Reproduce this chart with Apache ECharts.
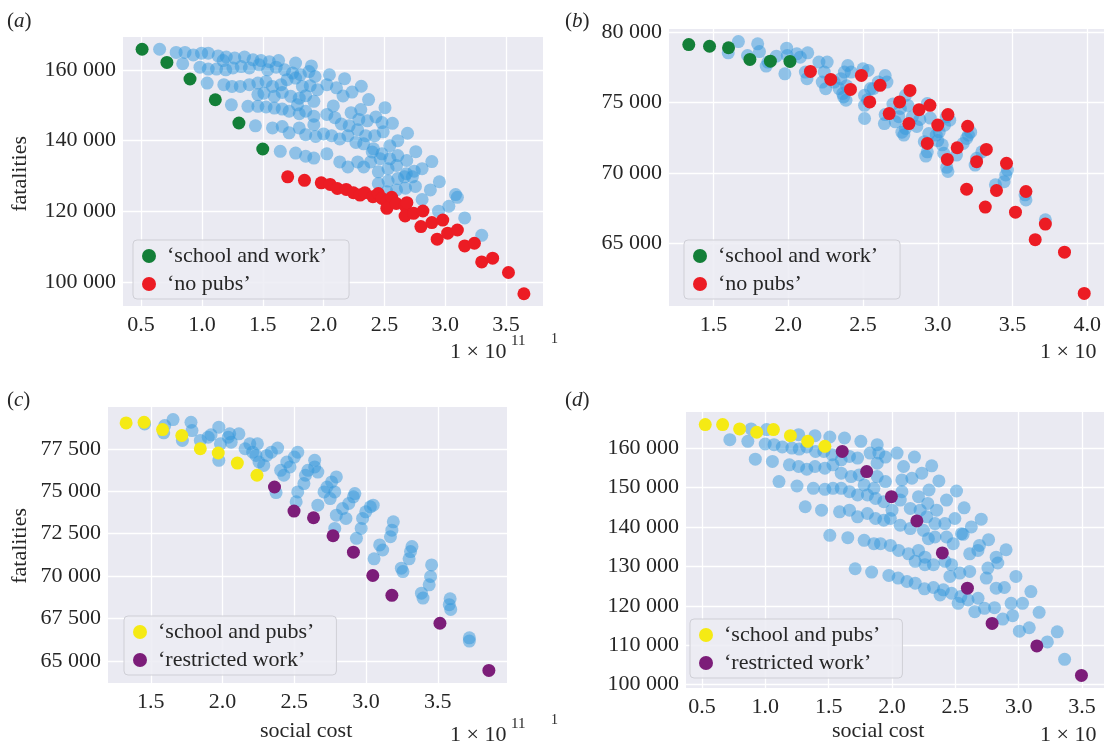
<!DOCTYPE html>
<html><head><meta charset="utf-8">
<script src="https://cdn.jsdelivr.net/npm/echarts@6/dist/echarts.min.js"></script>
<style>html,body{margin:0;padding:0;background:#fff}#c{width:1104px;height:744px}</style>
</head><body><div id="c"></div>
<script>
// ---------- Panel (a): social cost (x 1e11) vs fatalities ----------
const aBlue = [
[0.652,165800],[0.788,164900],[0.861,164900],[0.929,164200],[0.997,164700],[1.052,164700],[1.133,163900],[1.20,163600],[1.27,163300],[1.35,163600],[1.42,162800],[1.486,162600],[1.554,162300],[1.63,162600],[1.77,161900],[1.90,161100],
[0.842,161700],[0.984,160750],[1.052,160200],[1.12,160200],[1.196,160000],[1.255,160500],[1.174,162600],[1.323,160900],[1.39,160500],[1.47,161400],[1.54,160000],[1.61,160750],[1.68,160000],[1.745,159060],[1.81,158600],[1.88,159500],[1.93,158100],
[1.043,156250],[1.18,155800],[1.247,155300],[1.315,155300],[1.39,155800],[1.46,156250],[1.527,156700],[1.58,155300],[1.65,155800],[1.70,157200],[1.77,157650],[1.826,155300],[1.89,155500],[1.95,154400],
[1.46,153000],[1.51,153400],[1.595,152500],[1.66,153600],[1.73,152500],[1.80,152000],[1.853,152700],[1.92,151100],
[1.242,150100],[1.378,149700],[1.46,149700],[1.527,149500],[1.595,149200],[1.66,148900],[1.717,148300],[1.80,147600],[1.853,148300],[1.92,146900],[1.785,150100],
[1.44,144200],[1.58,143600],[1.66,144000],[1.717,142200],[1.80,143600],[1.853,141700],[1.92,144500],[1.935,141200],
[1.644,137000],[1.77,136500],[1.853,135600],[1.92,135100],
[2.048,158600],[2.173,157500],[2.31,155350],[2.37,151600],[2.505,149300],[2.566,144900],[2.69,142100],[2.758,136900],[2.89,134100],[2.952,128400],[3.085,124800],
[2.106,154900],[2.234,153700],[2.306,148800],[2.43,146700],[2.49,142500],[2.61,140000],[2.684,134400],[2.745,131400],[2.81,132100],[2.878,126100],
[2.027,155800],[2.08,149800],[2.16,152600],[2.226,147900],[2.29,146000],[2.36,145600],[2.42,141400],[2.48,145100],[2.545,138600],[2.61,135800],[2.68,130700],
[2.027,147400],[2.093,146500],[2.146,144700],[2.21,144200],[2.28,143100],[2.346,141400],[2.41,137700],[2.48,136300],[2.545,134900],[2.60,133000],[2.665,129800],[2.73,129800],
[2.0,141900],[2.066,141400],[2.133,140500],[2.2,141400],[2.266,139500],[2.33,139100],[2.40,136800],[2.465,134900],[2.53,132100],[2.53,128600],[2.61,129300],
[2.027,136300],[2.133,134000],[2.2,132600],[2.28,134000],[2.33,132600],[2.386,134000],[2.45,131200],[2.45,127900],[2.52,125600],[2.6,126100],
[2.673,126600],[2.755,127100],[2.81,123400],[3.03,121500],[2.945,120100],[3.10,124000],[3.16,118200],[3.30,113300]
];
const aGreen = [[0.508,165800],[0.712,162070],[0.902,157400],[1.11,151550],[1.304,144980],[1.50,137650]];
const aRed = [
[1.705,129800],[1.843,128800],[1.981,128100],[2.054,127650],[2.113,126500],[2.186,126250],[2.245,125300],[2.30,124650],[2.34,125300],[2.406,124200],[2.45,125100],[2.48,123700],[2.52,122800],[2.56,124000],[2.52,120900],[2.597,122300],[2.67,121650],[2.685,122500],[2.67,118750],[2.74,119500],[2.817,120150],[2.80,115750],[2.89,116900],[2.98,117600],[2.934,112200],[3.02,113900],[3.10,114800],[3.16,110300],[3.24,111050],[3.30,105800],[3.39,106850],[3.52,102800],[3.647,96800]
];
// ---------- Panel (b) ----------
const bBlue = [
[1.666,79340],[1.598,78540],[1.795,79180],[1.807,78630],[1.727,78350],[1.852,77600],[1.864,77880],[1.92,78300],[1.989,78870],[1.993,78350],[1.977,77050],[2.057,78470],[2.13,78540],[2.08,78230],
[2.114,77170],[2.125,76700],[2.205,77880],[2.26,77880],[2.24,77170],[2.25,75990],[2.227,76460],[2.307,76460],
[2.398,77640],[2.375,77170],[2.352,76700],[2.364,75640],[2.386,75170],[2.42,77170],[2.5,77400],[2.534,77290],[2.51,75520],[2.39,76200],[2.34,76000],[2.37,75400],
[2.51,74810],[2.51,73870],[2.568,75990],[2.602,76460],[2.648,76930],[2.66,76460],[2.643,73510],[2.648,74150],[2.53,75200],[2.55,76000],
[2.784,75520],[2.75,74580],[2.773,72690],[2.784,73160],[2.716,73630],[2.83,73990],[2.70,74900],[2.74,74000],[2.80,74800],[2.76,72900],
[2.93,74930],[2.93,71500],[2.91,72220],[2.86,73300],[2.88,73800],[2.95,73900],[2.94,72800],[2.92,71200],
[3.057,73990],[3.01,72920],[2.99,72690],[3.068,70100],[3.045,73390],[3.08,73750],[3.0,72300],[3.03,72000],[3.06,70400],[3.04,71400],
[3.17,72100],[3.193,72450],[3.205,72690],[3.125,71270],[3.25,70560],[3.26,71040],[3.295,71500],[3.22,72900],
[3.455,69850],[3.444,69380],[3.386,69150],[3.466,70200],
[3.584,68440],[3.59,68080],[3.72,66670]
];
const bGreen = [[1.334,79130],[1.473,79010],[1.60,78900],[1.743,78070],[1.88,77950],[2.011,77930]];
const bRed = [
[2.148,77220],[2.284,76650],[2.416,75940],[2.489,76935],[2.545,75050],[2.614,76230],[2.675,74220],[2.745,75050],[2.814,75870],[2.807,73510],[2.875,74500],[2.948,74810],[2.93,72100],[3.0,73400],[3.068,74150],[3.064,70960],[3.13,71790],[3.20,73320],[3.193,68840],[3.26,70800],[3.325,71670],[3.318,67570],[3.393,68750],[3.46,70680],[3.52,67210],[3.59,68680],[3.652,65250],[3.72,66360],[3.848,64360],[3.98,61430]
];
// ---------- Panel (c) ----------
const cBlue = [
[1.457,78960],[1.597,78870],[1.655,79220],[1.59,78440],[1.78,79060],[1.787,78570],[1.72,77990],
[1.845,77990],[1.90,78180],[1.92,78320],[1.974,78770],[1.985,77790],[1.974,76820],[2.04,78180],[2.05,78380],[2.114,78380],[2.06,77890],
[2.157,77500],[2.19,77790],[2.243,77790],[2.233,77110],[2.254,76720],[2.21,77300],[2.308,77110],[2.34,77300],[2.384,77540],[2.287,76520],[2.373,74920],
[2.405,76230],[2.448,76720],[2.47,76430],[2.5,77010],[2.524,77300],[2.427,75940],[2.524,74960],[2.513,74380],[2.578,75940],[2.567,75450],[2.595,76230],[2.642,76430],[2.642,76820],[2.664,76130],
[2.664,74180],[2.707,74960],[2.728,75250],[2.76,75550],[2.793,75840],[2.782,74960],[2.75,74570],
[2.793,73590],[2.782,72810],[2.836,73980],[2.88,74280],[2.912,74670],[2.922,74860],[2.86,73400],
[2.976,73400],[2.998,73790],[3.03,74080],[3.05,74180],[2.966,72810],[2.933,72230],[3.056,71020],
[3.095,71840],[3.116,71540],[3.17,72320],[3.18,72710],[3.19,73200],
[3.246,70470],[3.257,70270],[3.31,71450],[3.32,71740],[3.30,71020],
[3.386,69000],[3.397,68710],[3.44,69490],[3.45,69980],[3.457,70660],
[3.586,68670],[3.58,68320],[3.59,68040],[3.72,66370],[3.72,66180]
];
const cYellow = [[1.328,79020],[1.453,79060],[1.582,78630],[1.716,78280],[1.845,77500],[1.97,77250],[2.103,76660],[2.24,75940]];
const cPurple = [[2.362,75250],[2.498,73830],[2.634,73440],[2.77,72380],[2.912,71410],[3.047,70040],[3.18,68870],[3.515,67230],[3.856,64450]];
// ---------- Panel (d) ----------
const dBlue = [
[0.888,164850],[1.01,164680],[1.263,163400],[1.392,163150],[1.509,162800],[1.625,162550],[1.754,161700],[1.883,160850],
[0.72,162130],[0.862,161700],[0.999,161020],[1.069,160850],[1.134,160260],[1.21,160000],[1.268,159740],[1.327,160260],[1.397,159150],[1.462,159150],[1.527,158300],[1.599,157020],[1.664,157870],[1.728,157450],[1.827,158720],[1.896,158720],[1.948,157700],
[0.921,157190],[1.056,156600],[1.19,155740],[1.263,155320],[1.327,154640],[1.392,155320],[1.47,154900],[1.534,155740],[1.599,153620],[1.677,152770],[1.741,153190],[1.883,152770],[1.948,151490],[1.883,156170],
[1.108,151490],[1.25,150380],[1.379,149790],[1.47,149530],[1.534,149790],[1.599,149790],[1.664,148940],[1.728,148090],[1.806,148090],[1.87,147230],[1.935,146380],[1.857,149790],[1.78,150640],
[1.315,145110],[1.444,144260],[1.586,143830],[1.664,144260],[1.728,142560],[1.806,143400],[1.87,142130],[1.935,141700],[1.987,142130],
[1.509,137870],[1.651,137270],[1.78,136600],[1.857,135750],[1.909,135750],[1.987,135320],
[2.04,158720],[2.177,157700],[2.313,155490],[2.37,151660],[2.509,149110],[2.569,144850],[2.704,141960],[2.762,136770],[2.90,134210],
[2.091,155320],[2.235,153620],[2.292,149360],[2.43,146810],[2.496,142130],[2.626,140000],[2.69,135320],[2.822,132340],
[2.078,151920],[2.157,152350],[2.209,147660],[2.282,145960],[2.352,144260],[2.417,140850],[2.561,138130],
[2.065,146810],[2.078,148940],[2.144,144680],[2.222,144260],[2.274,142560],[2.339,140850],[2.43,137450],[2.483,135750],[2.548,138300],[2.613,133190],[2.678,134040],
[2.0,144260],[2.065,140430],[2.144,139580],[2.248,139150],[2.287,137020],[2.339,137450],
[2.052,134040],[2.13,133190],[2.209,134040],[2.26,132340],
[1.709,129400],[1.839,128550],[1.975,127700],[2.048,127020],[2.118,126170],[2.183,125750],[2.256,124300],[2.327,124640],[2.379,122770],[2.405,124040],[2.47,123190],[2.522,120640],[2.543,122340],[2.6,121490],[2.653,118510],[2.679,121910],[2.73,119360],[2.809,119530],[2.874,116640],[2.952,117490],[3.005,113570],[3.083,114430],[3.226,110850],[3.304,113400],[3.362,106430],
[2.183,131280],[2.26,130430],[2.327,130430],[2.47,130430],[2.535,128300],[2.613,128720],[2.457,127450],[2.418,131280],
[2.757,129570],[2.835,130850],[2.744,127020],[2.822,124470],[2.887,124640],[2.978,127450],[3.03,120640],[3.096,123620],[3.161,118340],[2.94,120640]
];
const dYellow = [[0.526,165960],[0.663,165960],[0.797,164850],[0.932,164000],[1.064,164680],[1.198,163150],[1.335,161700],[1.47,160430]];
const dPurple = [[1.607,159150],[1.80,154040],[1.995,147660],[2.196,141530],[2.397,133400],[2.595,124470],[2.79,115530],[3.143,109830],[3.495,102340]];

// tick labels
const xTicksA = [0.5,1.0,1.5,2.0,2.5,3.0,3.5];
const xTicksB = [1.5,2.0,2.5,3.0,3.5,4.0];
const xTicksC = [1.5,2.0,2.5,3.0,3.5];
const xTicksD = [0.5,1.0,1.5,2.0,2.5,3.0,3.5];
const yTicksA = [100000,120000,140000,160000];
const yTicksB = [65000,70000,75000,80000];
const yTicksC = [65000,67500,70000,72500,75000,77500];
const yTicksD = [100000,110000,120000,130000,140000,150000,160000];

const namesAB = ['\u2018school and work\u2019','\u2018no pubs\u2019'];
const namesCD = ['\u2018school and pubs\u2019','\u2018restricted work\u2019'];

const FONT = '"Liberation Serif","DejaVu Serif",serif';
const TXT = '#262626';
const BLUE = 'rgba(52,152,219,0.5)';
const GREEN = '#137f38', RED = '#ec1c24', YELLOW = '#f5ea14', PURPLE = '#7c1d79';

function range(sets, k){
  let lo=Infinity, hi=-Infinity;
  sets.forEach(s=>s.forEach(p=>{lo=Math.min(lo,p[k]);hi=Math.max(hi,p[k]);}));
  const m=(hi-lo)*0.05; return [lo-m, hi+m];
}
const fmtY = v => String(Math.round(v)).replace(/\B(?=(\d{3})+(?!\d))/g,' ');
const fmtX = v => v.toFixed(1);

const panels = [
  {grid:{left:123,top:37,width:420,height:269}, sets:[aBlue,aGreen,aRed], xt:xTicksA, yt:yTicksA, cols:[GREEN,RED], names:namesAB, xr:null},
  {grid:{left:669,top:29,width:440,height:277}, sets:[bBlue,bGreen,bRed], xt:xTicksB, yt:yTicksB, cols:[GREEN,RED], names:namesAB, xr:null},
  {grid:{left:108,top:407,width:399,height:276}, sets:[cBlue,cYellow,cPurple], xt:xTicksC, yt:yTicksC, cols:[YELLOW,PURPLE], names:namesCD, xr:null},
  {grid:{left:686,top:412,width:418,height:276}, sets:[dBlue,dYellow,dPurple], xt:xTicksD, yt:yTicksD, cols:[YELLOW,PURPLE], names:namesCD, xr:[0.374,3.673]}
];

const grids=[], xAxes=[], yAxes=[], series=[];
panels.forEach((p,i)=>{
  grids.push(Object.assign({show:true, backgroundColor:'#EAEAF2', borderWidth:0}, p.grid));
  const xr = p.xr || range(p.sets,0), yr = range(p.sets,1);
  xAxes.push({type:'value', gridIndex:i, min:xr[0], max:xr[1],
    axisLine:{show:false}, axisTick:{show:false, customValues:p.xt},
    axisLabel:{customValues:p.xt, formatter:fmtX, fontFamily:FONT, fontSize:22, color:TXT, margin:8},
    splitLine:{show:true, lineStyle:{color:'#ffffff', width:1.3}}});
  yAxes.push({type:'value', gridIndex:i, min:yr[0], max:yr[1],
    axisLine:{show:false}, axisTick:{show:false, customValues:p.yt},
    axisLabel:{customValues:p.yt, formatter:fmtY, fontFamily:FONT, fontSize:22, color:TXT, margin:7},
    splitLine:{show:true, lineStyle:{color:'#ffffff', width:1.3}}});
  series.push({type:'scatter', name:'all'+i, xAxisIndex:i, yAxisIndex:i, data:p.sets[0], symbolSize:13,
    itemStyle:{color:BLUE, opacity:1}, silent:true, z:2});
  series.push({type:'scatter', name:p.names[0], xAxisIndex:i, yAxisIndex:i, data:p.sets[1], symbolSize:13,
    itemStyle:{color:p.cols[0], opacity:1}, z:3});
  series.push({type:'scatter', name:p.names[1], xAxisIndex:i, yAxisIndex:i, data:p.sets[2], symbolSize:13,
    itemStyle:{color:p.cols[1], opacity:1}, z:3});
});

function legend(names,left,top){
  return {data:names, left:left, top:top, orient:'vertical', icon:'circle', itemWidth:14, itemHeight:14, itemGap:6,
    padding:[5,22,4,9], backgroundColor:'rgba(236,236,243,0.85)', borderColor:'#cfcfd6', borderWidth:1, borderRadius:4,
    selectedMode:false, textStyle:{fontFamily:FONT, fontSize:22, color:TXT, padding:[0,0,0,6]}};
}

function panelLabel(letter,x,y){
  return {type:'text', left:x, top:y, style:{text:'{p|(}{i|'+letter+'}{p|)}',
    rich:{p:{fontFamily:FONT,fontSize:21,fill:TXT}, i:{fontFamily:FONT,fontSize:21,fontStyle:'italic',fill:TXT}}}};
}
function offsetText(x,y,sup){
  const g=[{type:'text', left:x, top:y, style:{text:'1 \u00d7 10', font:'22px '+FONT, fill:TXT}}];
  if(sup) g.push({type:'text', left:x+61, top:y-7, style:{text:'11', font:'15px '+FONT, fill:TXT}});
  return g;
}
function centered(text,cx,top){
  return {type:'text', left:cx, top:top, style:{text:text, font:'22px '+FONT, fill:TXT, align:'center'}};
}

const graphics = [
  panelLabel('a',7,11), panelLabel('b',565,11), panelLabel('c',7,390), panelLabel('d',565,390),
  {type:'text', left:9, top:136, rotation:Math.PI/2, style:{text:'fatalities', font:'22px '+FONT, fill:TXT}},
  {type:'text', left:9, top:508, rotation:Math.PI/2, style:{text:'fatalities', font:'22px '+FONT, fill:TXT}},
  {type:'text', left:260, top:720, style:{text:'social cost', font:'22px '+FONT, fill:TXT}},
  {type:'text', left:832, top:720, style:{text:'social cost', font:'22px '+FONT, fill:TXT}},
  {type:'text', left:551, top:332, style:{text:'1', font:'14px '+FONT, fill:TXT}},
  {type:'text', left:551, top:713, style:{text:'1', font:'14px '+FONT, fill:TXT}}
].concat(offsetText(450,341,true), offsetText(1040,341,false), offsetText(450,724,true), offsetText(1040,724,false));

const chart = echarts.init(document.getElementById('c'), null, {renderer:'canvas'});
chart.setOption({
  animation:false,
  backgroundColor:'#ffffff',
  grid:grids, xAxis:xAxes, yAxis:yAxes, series:series,
  legend:[legend(namesAB,133,240), legend(namesAB,684,240), legend(namesCD,124,616), legend(namesCD,690,619)],
  graphic:graphics
});
</script></body></html>
